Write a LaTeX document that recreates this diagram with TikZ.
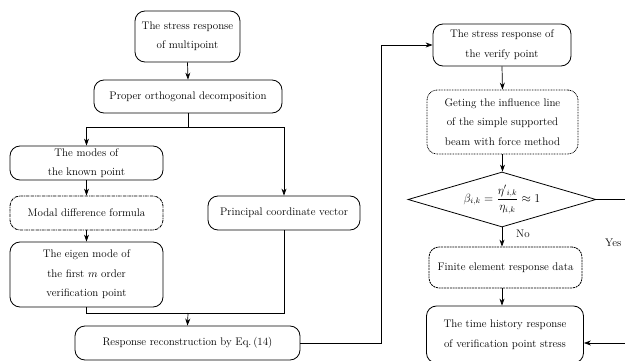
\documentclass[tikz,border=0pt]{standalone}
\usetikzlibrary{shapes.geometric,arrows.meta}
\begin{document}
\begin{tikzpicture}[x=1pt,y=-1pt,
  box/.style={draw,rounded corners=10pt,line width=0.8pt,align=center,inner sep=1pt,
    font=\fontsize{11}{19.5}\selectfont},
  arr/.style={-{Stealth[length=7pt,width=5pt]},line width=0.7pt},
  ln/.style={line width=0.7pt}]
\useasboundingbox (0,0) rectangle (625,361);
\clip (0,0) rectangle (625,361);
\node[box,minimum width=105pt,minimum height=51pt] (b1) at (187.5,36.5) {The stress response\\of multipoint};
\node[box,minimum width=188pt,minimum height=33pt] (b2) at (188,96.5) {Proper orthogonal decomposition};
\node[box,minimum width=153pt,minimum height=34pt,inner sep=0pt] (b3) at (86.5,163) {The modes of\\the known point};
\node[box,dash pattern=on 3pt off 0.8pt on 0.8pt off 0.8pt,minimum width=153pt,minimum height=34pt] (b4) at (86.5,213) {Modal difference formula};
\node[box,minimum width=153pt,minimum height=65pt] (b5) at (86.5,274.5) {The eigen mode of\\the first $m$ order\\verification point};
\node[box,minimum width=152pt,minimum height=34pt] (pcv) at (284,213) {Principal coordinate vector};
\node[box,minimum width=225pt,minimum height=34pt] (b6) at (187.5,343) {Response reconstruction by Eq.\,(14)};
\node[box,minimum width=138pt,minimum height=42pt] (b7) at (502,45) {The stress response of\\the verify point};
\node[box,dash pattern=on 0.8pt off 0.8pt,minimum width=151pt,minimum height=64pt] (b8) at (502.5,122) {Geting the influence line\\of the simple supported\\beam with force method};
\node[draw,diamond,line width=0.8pt,minimum width=188pt,minimum height=55pt,inner sep=0pt,aspect=3.4,font=\fontsize{11.5}{14}\selectfont] (dia) at (502,199.5) {$\displaystyle\beta_{i,k}=\frac{\eta'{}_{i,k}}{\eta_{i,k}}\approx 1$};
\node[box,dash pattern=on 2pt off 0.8pt,minimum width=153pt,minimum height=41pt] (b9) at (505.5,267.5) {Finite element response data};
\node[box,minimum width=157pt,minimum height=57pt] (b10) at (505,334.5) {The time history response\\of verification point stress};
\node[font=\fontsize{11}{12}\selectfont,anchor=west,inner sep=0pt] (no) at (516,234) {No};
\node[font=\fontsize{11}{12}\selectfont,anchor=west,inner sep=0pt] (yes) at (605,243) {Yes};
% connectors
\draw[arr] (b1.south) -- (b2.north);
\coordinate (split) at (188,127);
\draw[ln] (b2.south) -- (split);
\draw[arr] (split) -| (b3.north);
\draw[arr] (split) -| (pcv.north);
\draw[arr] (b3.south) -- (b4.north);
\draw[arr] (b4.south) -- (b5.north);
\coordinate (merge) at (188,313);
\draw[ln] (b5.south) |- (merge);
\draw[ln] (pcv.south) |- (merge);
\draw[arr] (merge) -- (b6.north);
\coordinate (up) at (381,343);
\draw[arr] (b6.east) -- (up) |- (b7.west);
\draw[arr] (b7.south) -- (b8.north);
\draw[arr] (b8.south) -- (b8.south |- dia.north);
\draw[arr] (dia.south) -- (dia.south |- b9.north);
\draw[arr] (dia.south |- b9.south) -- (dia.south |- b10.north);
\coordinate (yr) at (640,199.5);
\coordinate (yb) at (640,343);
\draw[ln] (dia.east) -- (yr);
\draw[arr] (yb) -- (b10.east |- yb);
\end{tikzpicture}
\end{document}
